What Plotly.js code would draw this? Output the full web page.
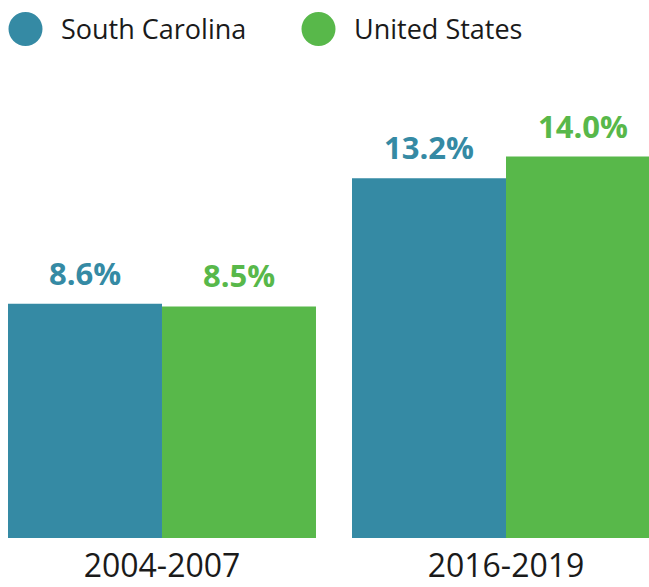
<!DOCTYPE html>
<html>
<head>
<meta charset="utf-8">
<script src="https://cdn.plot.ly/plotly-3.0.1.min.js"></script>
<style>html,body{margin:0;padding:0;background:#fff;}#chart{width:649px;height:587px;}</style>
</head>
<body>
<div id="chart"></div>
<script>
const categories = ["2004-2007", "2016-2019"];
const seriesNames = ["South Carolina", "United States"];
const southCarolina = [8.6, 13.2];
const unitedStates = [8.5, 14.0];
const colors = ["#358AA4", "#58B84A"];

const allSeries = [southCarolina, unitedStates];
const traces = allSeries.map((vals, i) => ({
  type: "bar",
  name: seriesNames[i],
  x: categories,
  y: vals,
  marker: {color: colors[i]},
  hoverinfo: "skip",
  showlegend: false
}));

const annotations = [];
allSeries.forEach((vals, i) => {
  vals.forEach((v, j) => {
    annotations.push({
      x: categories[j], y: v, xref: "x", yref: "y",
      text: v.toFixed(1) + "%",
      showarrow: false,
      xshift: (i === 0 ? -1 : 1) * 77,
      yanchor: "bottom", yshift: 8,
      font: {family: "Open Sans", size: 31, color: colors[i], weight: 700}
    });
  });
});

// legend (circles + labels); plot area top at 80px, bottom at 538px (height 458)
const legendX = [25.5, 318.5];
const legendY = (538 - 29) / 458;
const shapes = [];
seriesNames.forEach((n, i) => {
  shapes.push({
    type: "circle", xref: "paper", yref: "paper",
    xsizemode: "pixel", ysizemode: "pixel",
    xanchor: legendX[i] / 649, yanchor: legendY,
    x0: -17, x1: 17, y0: -17, y1: 17,
    fillcolor: colors[i], line: {width: 0}
  });
  annotations.push({
    xref: "paper", yref: "paper",
    x: (legendX[i] + 33) / 649, y: legendY,
    xanchor: "left", yanchor: "middle",
    text: n, showarrow: false,
    font: {family: "Open Sans", size: 27, color: "#1a1a1a", weight: 500}
  });
});

const layout = {
  width: 649, height: 587,
  margin: {l: 0, r: 0, t: 80, b: 49},
  paper_bgcolor: "#fff", plot_bgcolor: "#fff",
  barmode: "group", bargap: 0.1047, bargroupgap: 0,
  xaxis: {
    type: "category", range: [-0.4709, 1.4157],
    showgrid: false, zeroline: false, showline: false, ticks: "",
    automargin: false, ticklabelstandoff: 6,
    tickfont: {family: "Open Sans", size: 32, color: "#1a1a1a", weight: 500}
  },
  yaxis: {
    range: [0, 16.81], showgrid: false, zeroline: false,
    showticklabels: false, showline: false, ticks: "", automargin: false
  },
  shapes: shapes,
  annotations: annotations,
  showlegend: false
};

Plotly.newPlot("chart", traces, layout, {staticPlot: true});
</script>
</body>
</html>
